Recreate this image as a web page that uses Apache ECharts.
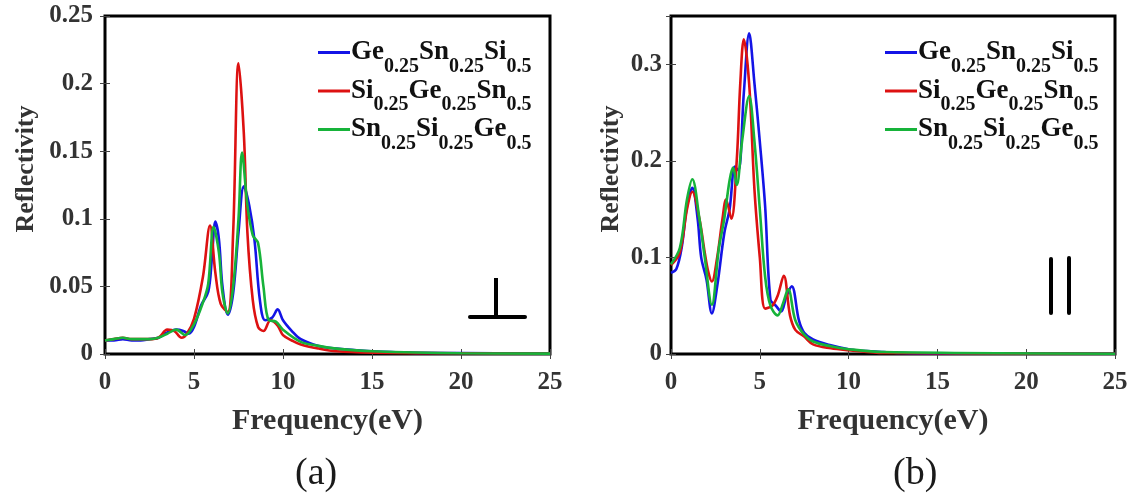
<!DOCTYPE html>
<html><head><meta charset="utf-8">
<script src="https://cdn.jsdelivr.net/npm/echarts@6/dist/echarts.min.js"></script>
<style>html,body{margin:0;padding:0;background:#fff}#c{width:1140px;height:502px}</style>
</head><body><div id="c"></div>
<script>
// Series names (legend)
const names = ['Ge0.25Sn0.25Si0.5', 'Si0.25Ge0.25Sn0.5', 'Sn0.25Si0.25Ge0.5'];
const richNames = {
  'Ge0.25Sn0.25Si0.5': '{m|Ge}{s|0.25}{m|Sn}{s|0.25}{m|Si}{s|0.5}',
  'Si0.25Ge0.25Sn0.5': '{m|Si}{s|0.25}{m|Ge}{s|0.25}{m|Sn}{s|0.5}',
  'Sn0.25Si0.25Ge0.5': '{m|Sn}{s|0.25}{m|Si}{s|0.25}{m|Ge}{s|0.5}'
};
const colors = ['#1414e6', '#dd1111', '#17b33a'];

// Panel (a): perpendicular polarization, [frequency eV, reflectivity]
const aGeSnSi = [[0,0.010],[0.5,0.010],[1,0.011],[1.5,0.010],[2,0.010],[2.5,0.011],[3,0.012],[3.5,0.016],[4,0.018],[4.4,0.017],[4.7,0.015],[5,0.020],[5.4,0.036],[5.8,0.046],[6.0,0.07],[6.2,0.098],[6.4,0.085],[6.6,0.05],[6.9,0.029],[7.2,0.045],[7.5,0.09],[7.8,0.124],[8.1,0.11],[8.4,0.084],[8.7,0.04],[9.0,0.025],[9.4,0.027],[9.7,0.033],[10,0.025],[10.5,0.017],[11,0.011],[12,0.006],[13,0.004],[14,0.003],[15,0.002],[17,0.001],[20,0.0007],[25,0.0005]];
const aSiGeSn = [[0,0.010],[0.5,0.011],[1,0.012],[1.5,0.011],[2,0.011],[2.5,0.011],[3,0.012],[3.5,0.018],[3.9,0.017],[4.3,0.012],[4.6,0.015],[5,0.026],[5.5,0.057],[5.9,0.095],[6.2,0.06],[6.5,0.037],[6.9,0.031],[7.2,0.09],[7.5,0.215],[7.8,0.163],[8.0,0.09],[8.3,0.04],[8.6,0.020],[8.9,0.017],[9.3,0.025],[9.7,0.021],[10,0.014],[10.5,0.010],[11,0.007],[12,0.004],[13,0.002],[15,0.001],[20,0.0005],[25,0.0003]];
const aSnSiGe = [[0,0.010],[0.5,0.011],[1,0.012],[1.5,0.011],[2,0.011],[2.5,0.011],[3,0.012],[3.5,0.015],[4,0.018],[4.5,0.014],[5,0.022],[5.5,0.038],[5.8,0.052],[6.1,0.094],[6.4,0.075],[6.6,0.045],[6.9,0.030],[7.2,0.05],[7.5,0.10],[7.7,0.149],[8.0,0.11],[8.3,0.088],[8.6,0.082],[8.9,0.05],[9.2,0.025],[9.6,0.024],[10,0.018],[11,0.009],[12,0.006],[13,0.004],[15,0.002],[20,0.0005],[25,0.0003]];

// Panel (b): parallel polarization
const bGeSnSi = [[0,0.084],[0.3,0.088],[0.6,0.11],[0.9,0.153],[1.2,0.172],[1.5,0.14],[1.7,0.10],[2.0,0.077],[2.3,0.042],[2.6,0.07],[3.0,0.125],[3.3,0.15],[3.6,0.194],[3.8,0.19],[4.1,0.27],[4.4,0.332],[4.7,0.28],[5.0,0.22],[5.3,0.153],[5.6,0.056],[5.9,0.05],[6.2,0.044],[6.5,0.06],[6.8,0.070],[7.2,0.035],[7.5,0.022],[8,0.015],[9,0.009],[10,0.005],[11,0.003],[12,0.002],[13,0.001],[15,0.0005],[25,0.0003]];
const bSiGeSn = [[0,0.092],[0.5,0.105],[0.9,0.15],[1.2,0.168],[1.6,0.14],[1.9,0.105],[2.1,0.085],[2.3,0.075],[2.6,0.10],[2.9,0.14],[3.1,0.16],[3.4,0.14],[3.7,0.2],[3.9,0.28],[4.1,0.326],[4.4,0.28],[4.7,0.17],[5.0,0.10],[5.3,0.047],[5.7,0.05],[6.0,0.06],[6.35,0.081],[6.7,0.04],[7.0,0.025],[7.5,0.018],[8,0.01],[9,0.006],[10,0.004],[12,0.001],[25,0.0002]];
const bSnSiGe = [[0,0.093],[0.5,0.11],[0.9,0.16],[1.2,0.181],[1.6,0.14],[1.9,0.10],[2.3,0.051],[2.7,0.11],[3.0,0.14],[3.3,0.18],[3.5,0.193],[3.7,0.175],[4.0,0.22],[4.4,0.267],[4.7,0.22],[5.0,0.15],[5.3,0.08],[5.6,0.05],[6.0,0.040],[6.3,0.052],[6.6,0.067],[7.0,0.035],[7.5,0.02],[8,0.013],[9,0.008],[10,0.005],[12,0.002],[25,0.0003]];

const xTicks = [0, 5, 10, 15, 20, 25];
const panelLabels = ['(a)', '(b)'];

const SERIF = '"Liberation Serif", "Times New Roman", serif';
const tickFont = {fontFamily: SERIF, fontWeight: 'bold', fontSize: 25, color: '#333'};
const xNameFont = {fontFamily: SERIF, fontWeight: 'bold', fontSize: 30, color: '#333'};
const yNameFont = {fontFamily: SERIF, fontWeight: 'bold', fontSize: 26, color: '#333'};

function xAxisPair(gi) {
  return [{
    type: 'value', gridIndex: gi, min: xTicks[0], max: xTicks[xTicks.length-1], interval: 5,
    name: 'Frequency(eV)', nameLocation: 'middle', nameGap: 52, nameTextStyle: xNameFont,
    axisLine: {show: false}, splitLine: {show: false},
    axisTick: {inside: true, length: 5, lineStyle: {color: '#444'}},
    axisLabel: Object.assign({margin: 16, showMinLabel: true, showMaxLabel: true}, tickFont)
  }, {
    type: 'value', gridIndex: gi, position: 'top', min: 0, max: 25, interval: 5,
    axisLine: {show: false}, splitLine: {show: false},
    axisTick: {inside: true, length: 5, lineStyle: {color: '#444'}}, axisLabel: {show: false}
  }];
}
function yAxisPair(gi, max, interval, gap) {
  return [{
    type: 'value', gridIndex: gi, min: 0, max: max, interval: interval,
    name: 'Reflectivity', nameLocation: 'middle', nameGap: gap, nameTextStyle: Object.assign({padding: [0, 0, 0, 32]}, yNameFont),
    axisLine: {show: false}, splitLine: {show: false},
    axisTick: {inside: true, length: 5, lineStyle: {color: '#444'}},
    axisLabel: Object.assign({margin: gi === 0 ? 12 : 9, showMaxLabel: gi === 0}, tickFont)
  }, {
    type: 'value', gridIndex: gi, position: 'right', min: 0, max: max, interval: interval,
    axisLine: {show: false}, splitLine: {show: false},
    axisTick: {inside: true, length: 5, lineStyle: {color: '#444'}}, axisLabel: {show: false}
  }];
}

const legendRich = {
  m: {fontFamily: SERIF, fontWeight: 'bold', fontSize: 27, color: '#111'},
  s: {fontFamily: SERIF, fontWeight: 'bold', fontSize: 20, color: '#111', padding: [28, 0, 0, 0]}
};
function legend(left) {
  return {
    data: names, orient: 'vertical', left: left, top: 34, itemWidth: 32, itemHeight: 3, itemGap: 1,
    icon: 'rect',
    formatter: n => richNames[n],
    textStyle: {rich: legendRich, padding: [0, 0, 0, -4]}
  };
}

const aData = [aGeSnSi, aSiGeSn, aSnSiGe];
const bData = [bGeSnSi, bSiGeSn, bSnSiGe];
const series = [];
[aData, bData].forEach((set, gi) => {
  set.forEach((d, i) => series.push({
    type: 'line', name: names[i], xAxisIndex: gi * 2, yAxisIndex: gi * 2, data: d,
    smooth: 0.35, symbol: 'none', lineStyle: {width: 2.6, color: colors[i]}, itemStyle: {color: colors[i]}
  }));
});

const option = {
  animation: false,
  grid: [
    {left: 105, top: 16, width: 445, height: 338, show: true, borderColor: '#000', borderWidth: 3, backgroundColor: 'transparent'},
    {left: 671, top: 16, width: 444, height: 338, show: true, borderColor: '#000', borderWidth: 3, backgroundColor: 'transparent'}
  ],
  xAxis: [...xAxisPair(0), ...xAxisPair(1)],
  yAxis: [...yAxisPair(0, 0.25, 0.05, 66), ...yAxisPair(1, 0.35, 0.1, 47)],
  legend: [legend(313), legend(880)],
  series: series,
  graphic: [
    {type: 'line', shape: {x1: 496, y1: 278, x2: 496, y2: 317}, style: {stroke: '#000', lineWidth: 4}},
    {type: 'line', shape: {x1: 470, y1: 317, x2: 525, y2: 317}, style: {stroke: '#000', lineWidth: 4, lineCap: 'round'}},
    {type: 'line', shape: {x1: 1051, y1: 259, x2: 1051, y2: 313}, style: {stroke: '#000', lineWidth: 4, lineCap: 'round'}},
    {type: 'line', shape: {x1: 1069, y1: 258, x2: 1069, y2: 313}, style: {stroke: '#000', lineWidth: 4, lineCap: 'round'}},
    {type: 'text', left: 295, top: 455, style: {text: panelLabels[0], font: '38px ' + SERIF, fill: '#1a1a1a'}},
    {type: 'text', left: 893, top: 455, style: {text: panelLabels[1], font: '38px ' + SERIF, fill: '#1a1a1a'}}
  ]
};
const chart = echarts.init(document.getElementById('c'));
chart.setOption(option);
</script></body></html>
